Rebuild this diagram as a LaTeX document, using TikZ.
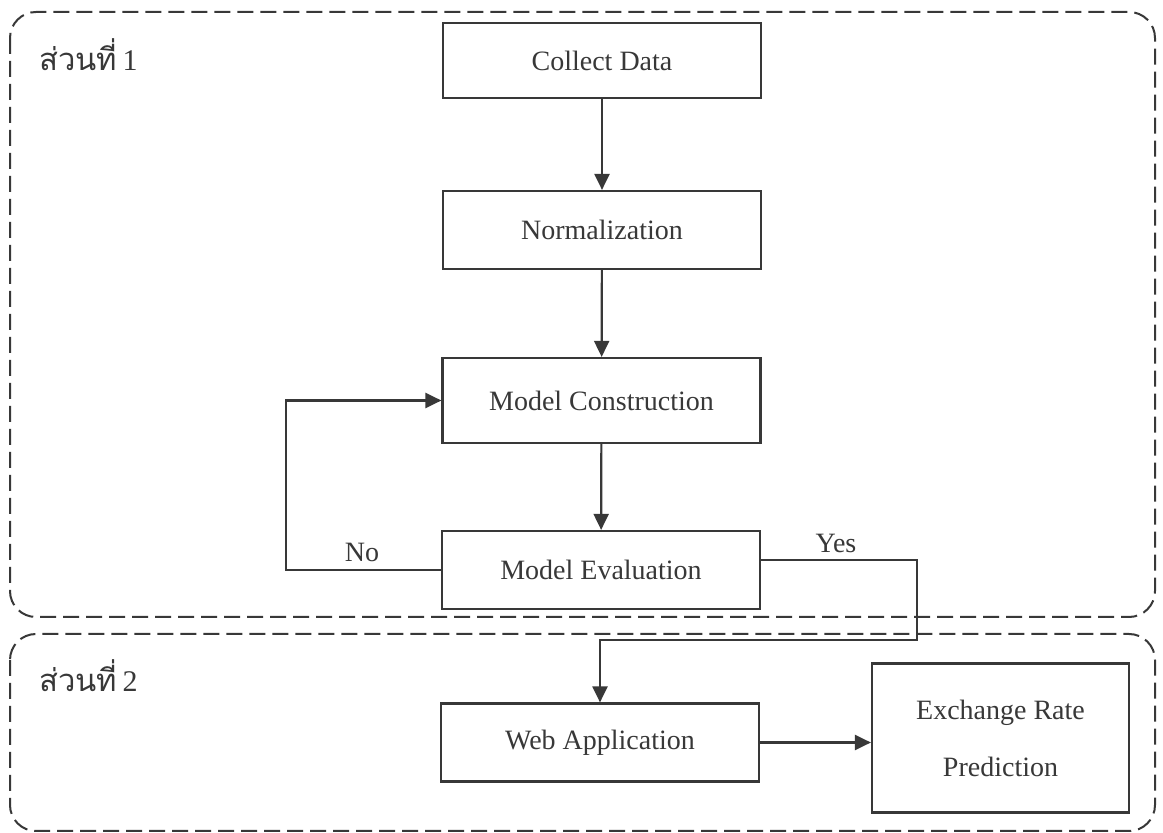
\documentclass[tikz,border=0pt]{standalone}
\usepackage{fontspec}
\setmainfont{Liberation Serif}
\newfontfamily\thaifont[Script=Thai]{Loma}
\usetikzlibrary{arrows.meta}
\definecolor{ink}{HTML}{383838}
\tikzset{
  procbox/.style={draw=ink, line width=1.1pt, minimum width=159pt, minimum height=39pt, inner sep=0pt, text=ink, font=\fontsize{14}{16}\selectfont},
  flow/.style={draw=ink, line width=1.1pt, -{Triangle[length=8pt,width=7.5pt]}},
  group/.style={draw=ink, line width=1pt, dash pattern=on 8pt off 3.5pt, rounded corners=13pt},
  lbl/.style={text=ink, font=\fontsize{14}{16}\selectfont, inner sep=0pt},
  thailbl/.style={text=ink, font=\thaifont\fontsize{15.5}{18}\selectfont, inner sep=0pt, anchor=west}
}
\begin{document}
\begin{tikzpicture}[x=0.5pt,y=-0.5pt]
\useasboundingbox (0,0) rectangle (1163,833);
\fill[white] (0,0) rectangle (1163,833);
% groups
\draw[group] (10,12) rectangle (1155,617);
\draw[group] (10,634) rectangle (1155,831);
\node[thailbl] (p1) at (39,55) {ส่วนที่\,{\rmfamily\fontsize{15}{18}\selectfont 1}};
\node[thailbl] (p2) at (39,676) {ส่วนที่\,{\rmfamily\fontsize{15}{18}\selectfont 2}};
% boxes
\node[procbox, minimum height=37.5pt] (cd) at (602,60.5) {Collect Data};
\node[procbox] (norm) at (602,230) {Normalization};
\node[procbox, minimum height=42.5pt] (mc) at (601.5,400.5) {Model Construction};
\node[procbox] (me) at (601,570) {Model Evaluation};
\node[procbox] (web) at (600,742.5) {Web Application};
\node[procbox, minimum width=128.5pt, minimum height=74.5pt, align=center] (ex) at (1000.5,738) {Exchange Rate\\[12.5pt]Prediction};
% connectors
\draw[flow] (cd) -- (norm);
\draw[flow] (norm) -- (mc);
\draw[flow] (mc) -- (me);
\draw[flow] (me.west) -- ++(-155,0) |- (mc.west);
\coordinate (yc) at (917,640);
\draw[flow] ([yshift=5pt]me.east) -| (yc) -| (web.north);
\draw[flow] (web.east) -- (web.east -| ex.west);
\node[lbl] (no) at (362,552) {No};
\node[lbl] (yes) at (836,543) {Yes};
\end{tikzpicture}
\end{document}
